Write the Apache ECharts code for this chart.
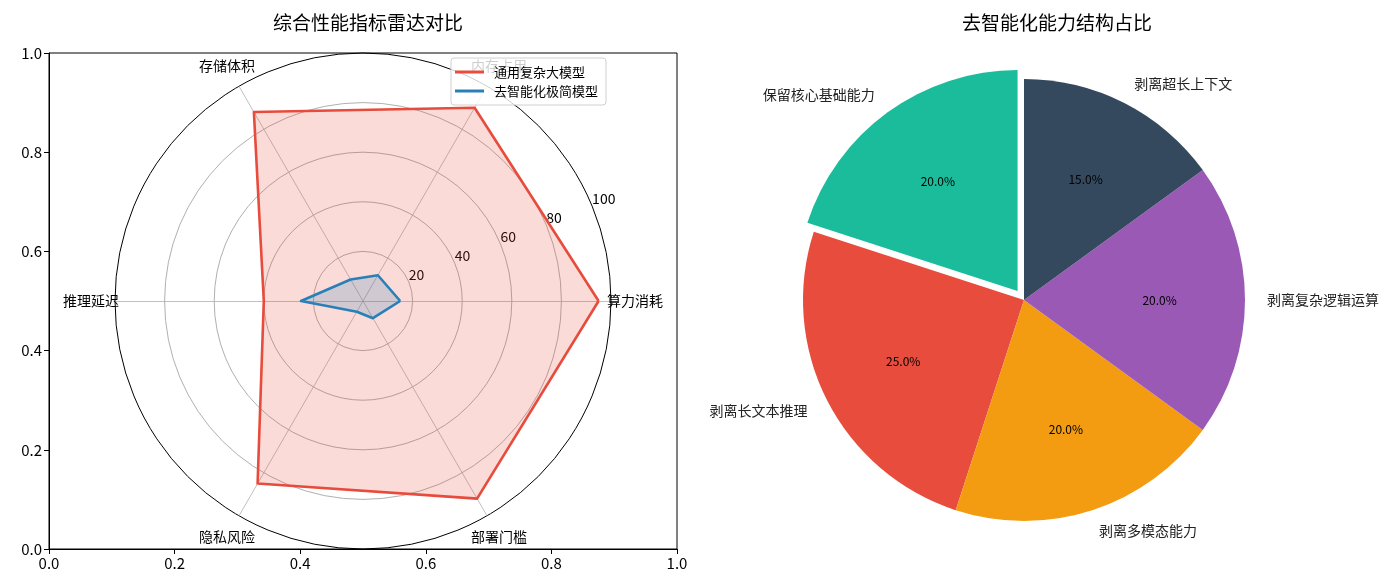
<!DOCTYPE html>
<html>
<head>
<meta charset="utf-8">
<script src="https://cdn.jsdelivr.net/npm/echarts@6/dist/echarts.min.js"></script>
<style>
  body { margin: 0; background: #fff; }
  #main { width: 1388px; height: 587px; }
</style>
</head>
<body>
<div id="main"></div>
<script>
// radar data
var radarNames = ['算力消耗', '内存占用', '存储体积', '推理延迟', '隐私风险', '部署门槛'];
var complexModel = [95, 90, 88, 40, 85, 92];
var minimalModel = [15, 12, 10, 25, 5, 8];
var radarMax = 100;
var seriesNames = ['通用复杂大模型', '去智能化极简模型'];

// pie data
var pieNames = ['保留核心基础能力', '剥离长文本推理', '剥离多模态能力', '剥离复杂逻辑运算', '剥离超长上下文'];
var pieValues = [20, 25, 20, 20, 15];
var pieColors = ['#1abc9c', '#e74c3c', '#f39c12', '#9b59b6', '#34495e'];
var explodedIndex = 0;

var FONT = '"Noto Sans CJK SC", sans-serif';
var cx = 363, cy = 301, R = 248;
var pcx = 1024, pcy = 300, PR = 221;

var chart = echarts.init(document.getElementById('main'));

var pieData = [];
var pctData = [];
for (var i = 0; i < pieNames.length; i++) {
    pieData.push({
        name: pieNames[i],
        value: pieValues[i],
        selected: i === explodedIndex,
        itemStyle: { color: pieColors[i] }
    });
    pctData.push({
        name: pieNames[i],
        value: pieValues[i],
        selected: i === explodedIndex
    });
}

var option = {
    animation: false,
    backgroundColor: '#fff',
    title: [
        {
            text: '综合性能指标雷达对比',
            left: cx, top: 8, textAlign: 'center',
            textStyle: { fontFamily: FONT, fontSize: 19, fontWeight: 'normal', color: '#000' }
        },
        {
            text: '去智能化能力结构占比',
            left: 1052, top: 8, textAlign: 'center',
            textStyle: { fontFamily: FONT, fontSize: 19, fontWeight: 'normal', color: '#000' }
        }
    ],
    legend: {
        data: seriesNames,
        orient: 'vertical',
        left: 451, top: 58,
        z: 10,
        icon: 'rect',
        itemWidth: 29, itemHeight: 3,
        itemGap: 5,
        padding: [7, 8, 7, 4],
        backgroundColor: 'rgba(255,255,255,0.8)',
        borderColor: '#d0d0d0', borderWidth: 1, borderRadius: 3,
        textStyle: { fontFamily: FONT, fontSize: 13, color: '#000', lineHeight: 14, padding: [0, 0, 0, 5] }
    },
    grid: {
        left: 49, top: 53, width: 628, height: 496,
        show: true, borderColor: '#000', borderWidth: 1, backgroundColor: 'transparent'
    },
    xAxis: {
        type: 'value', min: 0, max: 1, interval: 0.2,
        axisLine: { show: true, lineStyle: { color: '#000' } },
        axisTick: { show: true, length: 5, lineStyle: { color: '#000' } },
        splitLine: { show: false },
        axisLabel: { fontFamily: FONT, fontSize: 15, color: '#000', margin: 7,
            formatter: function (v) { return v.toFixed(1); } }
    },
    yAxis: {
        type: 'value', min: 0, max: 1, interval: 0.2,
        axisLine: { show: true, lineStyle: { color: '#000' } },
        axisTick: { show: true, length: 5, lineStyle: { color: '#000' } },
        splitLine: { show: false },
        axisLabel: { fontFamily: FONT, fontSize: 15, color: '#000', margin: 7,
            formatter: function (v) { return v.toFixed(1); } }
    },
    radar: {
        center: [cx, cy],
        radius: R,
        startAngle: 0,
        shape: 'circle',
        splitNumber: 5,
        nameGap: 24,
        indicator: radarNames.map(function (n) { return { name: n, max: radarMax, min: 0 }; }),
        axisName: { fontFamily: FONT, fontSize: 14, color: '#000', align: 'center', verticalAlign: 'middle' },
        axisLine: { lineStyle: { color: '#b0b0b0', width: 0.8 } },
        splitLine: { lineStyle: { color: ['#b0b0b0', '#b0b0b0', '#b0b0b0', '#b0b0b0', '#b0b0b0', '#000'], width: 1 } },
        splitArea: { show: false },
        axisTick: { show: false },
        axisLabel: { show: false }
    },
    polar: { center: [cx, cy], radius: R },
    angleAxis: { type: 'value', min: 0, max: 360, startAngle: 22.5, show: false },
    radiusAxis: {
        type: 'value', min: 0, max: radarMax, interval: 20,
        axisLine: { show: false }, axisTick: { show: false }, splitLine: { show: false },
        axisLabel: {
            margin: 0, align: 'left', verticalAlign: 'bottom',
            fontFamily: FONT, fontSize: 14, color: '#000',
            formatter: function (v) { return v === 0 ? '' : String(v); }
        }
    },
    series: [
        {
            type: 'radar',
            symbol: 'none',
            data: [
                {
                    name: seriesNames[0], value: complexModel,
                    itemStyle: { color: '#e74c3c' },
                    lineStyle: { color: '#e74c3c', width: 2.6 },
                    areaStyle: { color: '#e74c3c', opacity: 0.2 }
                },
                {
                    name: seriesNames[1], value: minimalModel,
                    itemStyle: { color: '#2980b9' },
                    lineStyle: { color: '#2980b9', width: 2.6 },
                    areaStyle: { color: '#2980b9', opacity: 0.2 }
                }
            ]
        },
        {
            type: 'pie',
            center: [pcx, pcy],
            radius: PR,
            startAngle: 90,
            clockwise: false,
            selectedMode: 'single',
            selectedOffset: 11,
            avoidLabelOverlap: false,
            itemStyle: { borderWidth: 0 },
            emphasis: { disabled: true },
            label: {
                show: true, position: 'outside',
                fontFamily: FONT, fontSize: 14, color: '#222',
                distanceToLabelLine: 0
            },
            labelLine: { show: false, length: 22, length2: 0 },
            data: pieData
        },
        {
            type: 'pie',
            center: [pcx, pcy],
            radius: [PR * 0.2, PR],
            startAngle: 90,
            clockwise: false,
            selectedMode: 'single',
            selectedOffset: 11,
            silent: true,
            avoidLabelOverlap: false,
            itemStyle: { color: 'rgba(0,0,0,0)', borderWidth: 0 },
            emphasis: { disabled: true },
            label: {
                show: true, position: 'inside',
                fontFamily: FONT, fontSize: 12, color: '#000',
                formatter: function (p) { return p.value.toFixed(1) + '%'; }
            },
            labelLine: { show: false },
            data: pctData
        }
    ]
};
chart.setOption(option);
</script>
</body>
</html>
